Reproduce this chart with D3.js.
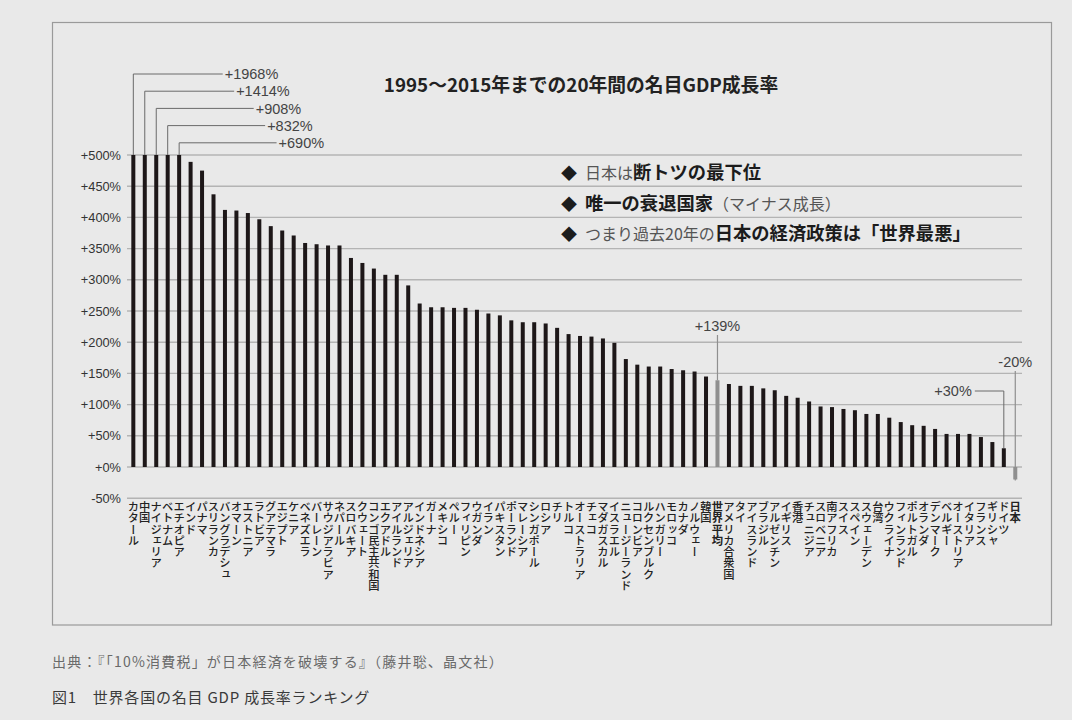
<!DOCTYPE html>
<html>
<head>
<meta charset="utf-8">
<script src="https://cdn.jsdelivr.net/npm/d3@7"></script>
<style>
  html, body { margin: 0; padding: 0; background: #e9e9e9; }
  svg { display: block; }
</style>
</head>
<body>
<div id="chart"></div>
<script>
// Countries, ranked by nominal GDP growth 1995-2015
const countries = [
  'カタール', '中国', 'ナイジェリア', 'ベトナム', 'エチオピア', 'インド', 'パナマ', 'スリランカ',
  'バングラデシュ', 'オマーン', 'エストニア', 'ラトビア', 'グアテマラ', 'エジプト', 'ケニア',
  'ベネズエラ', 'バーレーン', 'サウジアラビア', 'ネパール', 'スロバキア', 'クウェート',
  'コンゴ民主共和国', 'エクアドル', 'アイルランド', 'アルジェリア', 'インドネシア', 'ガーナ',
  'メキシコ', 'ペルー', 'フィリピン', 'ウガンダ', 'イラン', 'パキスタン', 'ポーランド',
  'マレーシア', 'シンガポール', 'ロシア', 'チリ', 'トルコ', 'オーストラリア', 'チェコ',
  'マダガスカル', 'イスラエル', 'ニュージーランド', 'コロンビア', 'ルクセンブルク', 'ハンガリー',
  'モロッコ', 'カナダ', 'ノルウェー', '韓国', '世界平均', 'アメリカ合衆国', 'タイ', 'アイスランド',
  'ブラジル', 'アルゼンチン', 'イギリス', '香港', 'チュニジア', 'スロベニア', '南アフリカ', 'スイス',
  'スペイン', 'スウェーデン', '台湾', 'ウクライナ', 'フィンランド', 'ポルトガル', 'オランダ',
  'デンマーク', 'ベルギー', 'オーストリア', 'イタリア', 'フランス', 'ギリシャ', 'ドイツ', '日本',
];

// Growth in percent (same order)
const growth = [
  1968, 1414, 908, 832, 690, 489, 475, 437,
  412, 411, 407, 397, 386, 379, 371,
  359, 357, 355, 355, 335, 327,
  318, 308, 308, 291, 262, 256,
  256, 255, 255, 252, 246, 243, 235,
  232, 232, 230, 223, 213, 210, 209,
  206, 199, 173, 164, 161, 161,
  157, 155, 153, 145, 139, 133, 130, 130,
  126, 123, 114, 111, 105, 97, 96, 93,
  91, 85, 85, 79, 72, 67, 66,
  61, 53, 53, 53, 48, 40, 30, -20,
];

const yTicks = [-50, 0, 50, 100, 150, 200, 250, 300, 350, 400, 450, 500];
const yMax = 500;

// Bars drawn in grey and with bold labels
const greyBars = ['世界平均', '日本'];
// Bars with their own callout (besides the ones over the top of the axis)
const calloutAbove = ['世界平均', '日本'];
const calloutSide = ['ドイツ'];

const title = '1995～2015年までの20年間の名目GDP成長率';
const bullets = [
  [['日本は', false], ['断トツの最下位', true]],
  [['唯一の衰退国家', true], ['（マイナス成長）', false]],
  [['つまり過去20年の', false], ['日本の経済政策は「世界最悪」', true]],
];
const source = '出典：『「10%消費税」が日本経済を破壊する』（藤井聡、晶文社）';
const caption = '図1　世界各国の名目 GDP 成長率ランキング';

const width = 1072;
const height = 720;
const jp = '"Noto Sans CJK JP", "Noto Sans", sans-serif';
const latin = '"Liberation Sans", Arial, sans-serif';
const barColour = '#1d1718';
const greyColour = '#8f8f8f';
const lineColour = '#6a6a6a';

const data = countries.map((c, i) => ({ name: c, value: growth[i] }));

const x = d3.scalePoint().domain(countries).range([127.6, 1021]).padding(0.5);
const y = d3.scaleLinear().domain([-50, yMax]).range([498.2, 155]);
const barWidth = 4;

const fmt = d => `${d >= 0 ? '+' : ''}${d}%`;

const svg = d3.select('#chart').append('svg')
  .attr('width', width)
  .attr('height', height);

svg.append('rect')
  .attr('width', width).attr('height', height)
  .attr('fill', '#e9e9e9');

// Frame
svg.append('rect')
  .attr('x', 52.5).attr('y', 22.5)
  .attr('width', 999).attr('height', 602.5)
  .attr('fill', 'none')
  .attr('stroke', '#9a9a9a')
  .attr('stroke-width', 1.2);

// Grid + y labels
const grid = svg.append('g');
grid.selectAll('line')
  .data(yTicks)
  .enter().append('line')
  .attr('x1', 127).attr('x2', 1022)
  .attr('y1', d => y(d)).attr('y2', d => y(d))
  .attr('stroke', '#b4b4b4')
  .attr('stroke-width', 1.4);

grid.selectAll('text')
  .data(yTicks)
  .enter().append('text')
  .attr('x', 121)
  .attr('y', d => y(d))
  .attr('dy', '0.36em')
  .attr('text-anchor', 'end')
  .style('font-family', latin)
  .style('font-size', '12.8px')
  .attr('fill', '#333')
  .text(fmt);

// Title
svg.append('text')
  .attr('x', 581).attr('y', 91.5)
  .attr('text-anchor', 'middle')
  .style('font-family', jp)
  .style('font-size', '18.8px')
  .style('font-weight', 700)
  .attr('fill', '#222')
  .text(title);

// Bullet notes
const notes = svg.append('g');
bullets.forEach((parts, i) => {
  const t = notes.append('text')
    .attr('x', 561)
    .attr('y', 179 + i * 30.6)
    .style('font-family', jp)
    .attr('fill', '#1c1c1c');
  t.append('tspan')
    .style('font-size', '16px')
    .text('◆');
  parts.forEach(([txt, bold], j) => {
    t.append('tspan')
      .attr('dx', j === 0 ? 8 : 0)
      .style('font-size', bold ? '18.3px' : '16px')
      .style('font-weight', bold ? 700 : 400)
      .attr('fill', bold ? '#1c1c1c' : '#555')
      .text(txt);
  });
});

// Callout lines go under the bars
const callouts = svg.append('g');

// Bars
svg.append('g').selectAll('rect')
  .data(data)
  .enter().append('rect')
  .attr('x', d => x(d.name) - barWidth / 2)
  .attr('width', barWidth)
  .attr('y', d => y(Math.min(yMax, Math.max(0, d.value))))
  .attr('height', d => Math.abs(y(Math.min(yMax, d.value)) - y(0)))
  .attr('fill', d => (greyBars.includes(d.name) ? greyColour : barColour));

// Category labels, written vertically
svg.append('g').selectAll('text')
  .data(data)
  .enter().append('text')
  .attr('x', d => x(d.name))
  .attr('y', 501)
  .style('writing-mode', 'vertical-rl')
  .style('text-orientation', 'upright')
  .style('font-family', jp)
  .style('font-size', '11.3px')
  .style('font-weight', d => (greyBars.includes(d.name) ? 700 : 500))
  .attr('fill', '#222')
  .text(d => d.name);

// Over-the-top callouts: stacked lines with right-aligned labels
const over = data.filter(d => d.value > yMax);
over.forEach((d, i) => {
  const ly = 74 + i * 17.2;
  const label = callouts.append('text')
    .attr('x', x(d.name) + 145)
    .attr('y', ly)
    .attr('dy', '0.36em')
    .attr('text-anchor', 'end')
    .style('font-family', latin)
    .style('font-size', '14.5px')
    .attr('fill', '#444')
    .text(fmt(d.value));
  const w = label.node().getComputedTextLength();
  callouts.append('path')
    .attr('d', `M${x(d.name)},${y(yMax)}V${ly}H${x(d.name) + 145 - w - 2}`)
    .attr('fill', 'none')
    .attr('stroke', lineColour)
    .attr('stroke-width', 1);
});

// Labels straight above a bar
const labelAbove = { 世界平均: 326, 日本: 362 };
data.filter(d => calloutAbove.includes(d.name)).forEach(d => {
  const ly = labelAbove[d.name];
  callouts.append('text')
    .attr('x', x(d.name))
    .attr('y', ly)
    .attr('dy', '0.36em')
    .attr('text-anchor', 'middle')
    .style('font-family', latin)
    .style('font-size', '14.5px')
    .attr('fill', '#444')
    .text(fmt(d.value));
  callouts.append('line')
    .attr('x1', x(d.name)).attr('x2', x(d.name))
    .attr('y1', ly + 9)
    .attr('y2', d.value < 0 ? y(d.value) + 1 : y(d.value))
    .attr('stroke', greyColour)
    .attr('stroke-width', 1.2);
});

// Side callout (elbow line)
data.filter(d => calloutSide.includes(d.name)).forEach(d => {
  const ly = 391;
  callouts.append('text')
    .attr('x', x(d.name) - 32)
    .attr('y', ly)
    .attr('dy', '0.36em')
    .attr('text-anchor', 'end')
    .style('font-family', latin)
    .style('font-size', '14.5px')
    .attr('fill', '#444')
    .text(fmt(d.value));
  callouts.append('path')
    .attr('d', `M${x(d.name) - 29},${ly}H${x(d.name)}V${y(d.value)}`)
    .attr('fill', 'none')
    .attr('stroke', lineColour)
    .attr('stroke-width', 1);
});

// Source and caption
svg.append('text')
  .attr('x', 52).attr('y', 667)
  .style('font-family', jp)
  .style('font-size', '14px')
  .style('letter-spacing', '1.2px')
  .attr('fill', '#6a6a6a')
  .text(source);

svg.append('text')
  .attr('x', 52).attr('y', 703)
  .style('font-family', jp)
  .style('font-size', '15px')
  .style('letter-spacing', '0.8px')
  .attr('fill', '#3a3a3a')
  .text(caption);
</script>
</body>
</html>
